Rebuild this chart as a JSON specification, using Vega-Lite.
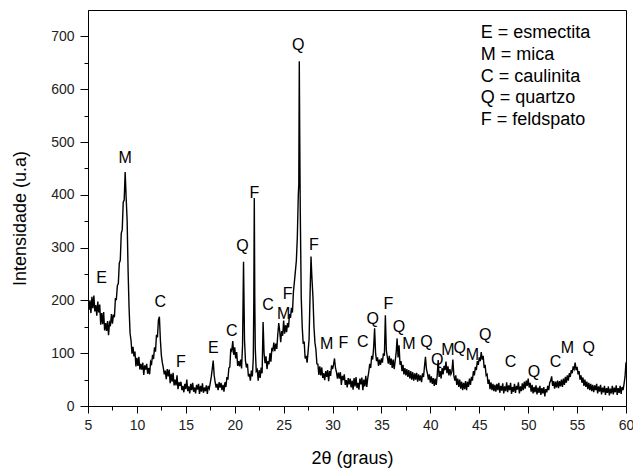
{
  "$schema": "https://vega.github.io/schema/vega-lite/v6.json",
  "width": 538,
  "height": 396,
  "autosize": {"type": "none"},
  "padding": {"left": 88, "top": 10, "right": 7, "bottom": 62},
  "background": "white",
  "config": {
    "font": "Liberation Sans",
    "view": {"stroke": "black", "strokeWidth": 1},
    "axis": {"grid": false, "domainColor": "black", "tickColor": "black", "labelColor": "#222", "titleColor": "black", "labelFont": "Liberation Sans", "titleFont": "Liberation Sans", "titleFontWeight": "normal"}
  },
  "datasets": {
    "xrd": [
      {"x":5.0,"y":205},{"x":5.1,"y":182},{"x":5.2,"y":200},{"x":5.3,"y":176},{"x":5.4,"y":207},{"x":5.5,"y":185},{"x":5.6,"y":209},{"x":5.7,"y":179},{"x":5.8,"y":191},{"x":5.9,"y":171},
      {"x":6.0,"y":198},{"x":6.1,"y":177},{"x":6.2,"y":192},{"x":6.3,"y":154},{"x":6.4,"y":176},{"x":6.5,"y":155},{"x":6.6,"y":178},{"x":6.7,"y":143},{"x":6.8,"y":157},{"x":6.9,"y":142},
      {"x":7.0,"y":161},{"x":7.1,"y":134},{"x":7.2,"y":158},{"x":7.3,"y":154},{"x":7.4,"y":174},{"x":7.5,"y":156},{"x":7.6,"y":173},{"x":7.7,"y":168},{"x":7.8,"y":203},{"x":7.9,"y":202},
      {"x":8.0,"y":228},{"x":8.1,"y":232},{"x":8.2,"y":271},{"x":8.3,"y":276},{"x":8.4,"y":327},{"x":8.5,"y":334},{"x":8.6,"y":386},{"x":8.7,"y":390},{"x":8.8,"y":443},{"x":8.9,"y":395},
      {"x":9.0,"y":352},{"x":9.1,"y":255},{"x":9.2,"y":185},{"x":9.3,"y":138},{"x":9.4,"y":124},{"x":9.5,"y":99},{"x":9.6,"y":112},{"x":9.7,"y":94},{"x":9.8,"y":103},{"x":9.9,"y":75},
      {"x":10.0,"y":91},{"x":10.1,"y":76},{"x":10.2,"y":93},{"x":10.3,"y":69},{"x":10.4,"y":80},{"x":10.5,"y":69},{"x":10.6,"y":82},{"x":10.7,"y":59},{"x":10.8,"y":77},{"x":10.9,"y":69},
      {"x":11.0,"y":80},{"x":11.1,"y":61},{"x":11.2,"y":72},{"x":11.3,"y":60},{"x":11.4,"y":84},{"x":11.5,"y":80},{"x":11.6,"y":97},{"x":11.7,"y":89},{"x":11.8,"y":111},{"x":11.9,"y":103},
      {"x":12.0,"y":135},{"x":12.1,"y":130},{"x":12.2,"y":163},{"x":12.3,"y":169},{"x":12.4,"y":125},{"x":12.5,"y":96},{"x":12.6,"y":82},{"x":12.7,"y":72},{"x":12.8,"y":60},{"x":12.9,"y":67},
      {"x":13.0,"y":51},{"x":13.1,"y":70},{"x":13.2,"y":56},{"x":13.3,"y":69},{"x":13.4,"y":43},{"x":13.5,"y":61},{"x":13.6,"y":46},{"x":13.7,"y":63},{"x":13.8,"y":39},{"x":13.9,"y":50},
      {"x":14.0,"y":39},{"x":14.1,"y":58},{"x":14.2,"y":32},{"x":14.3,"y":45},{"x":14.4,"y":38},{"x":14.5,"y":46},{"x":14.6,"y":30},{"x":14.7,"y":38},{"x":14.8,"y":26},{"x":14.9,"y":42},
      {"x":15.0,"y":32},{"x":15.1,"y":50},{"x":15.2,"y":28},{"x":15.3,"y":37},{"x":15.4,"y":24},{"x":15.5,"y":42},{"x":15.6,"y":30},{"x":15.7,"y":44},{"x":15.8,"y":27},{"x":15.9,"y":35},
      {"x":16.0,"y":24},{"x":16.1,"y":40},{"x":16.2,"y":31},{"x":16.3,"y":42},{"x":16.4,"y":23},{"x":16.5,"y":38},{"x":16.6,"y":27},{"x":16.7,"y":43},{"x":16.8,"y":25},{"x":16.9,"y":35},
      {"x":17.0,"y":28},{"x":17.1,"y":39},{"x":17.2,"y":23},{"x":17.3,"y":38},{"x":17.4,"y":33},{"x":17.5,"y":44},{"x":17.6,"y":55},{"x":17.7,"y":70},{"x":17.8,"y":86},{"x":17.9,"y":58},
      {"x":18.0,"y":45},{"x":18.1,"y":35},{"x":18.2,"y":42},{"x":18.3,"y":30},{"x":18.4,"y":45},{"x":18.5,"y":35},{"x":18.6,"y":44},{"x":18.7,"y":30},{"x":18.8,"y":40},{"x":18.9,"y":27},
      {"x":19.0,"y":45},{"x":19.1,"y":36},{"x":19.2,"y":55},{"x":19.3,"y":50},{"x":19.4,"y":72},{"x":19.5,"y":74},{"x":19.6,"y":109},{"x":19.7,"y":105},{"x":19.8,"y":123},{"x":19.9,"y":97},
      {"x":20.0,"y":111},{"x":20.1,"y":90},{"x":20.2,"y":102},{"x":20.3,"y":76},{"x":20.4,"y":85},{"x":20.5,"y":75},{"x":20.6,"y":88},{"x":20.7,"y":71},{"x":20.8,"y":115},{"x":20.9,"y":273},
      {"x":21.0,"y":125},{"x":21.1,"y":85},{"x":21.2,"y":73},{"x":21.3,"y":80},{"x":21.4,"y":56},{"x":21.5,"y":61},{"x":21.6,"y":48},{"x":21.7,"y":67},{"x":21.8,"y":56},{"x":21.9,"y":92},
      {"x":21.95,"y":200},{"x":22.0,"y":394},{"x":22.05,"y":205},{"x":22.1,"y":110},{"x":22.2,"y":66},{"x":22.3,"y":69},{"x":22.4,"y":48},{"x":22.5,"y":68},{"x":22.6,"y":53},{"x":22.7,"y":73},
      {"x":22.8,"y":62},{"x":22.9,"y":159},{"x":23.0,"y":100},{"x":23.1,"y":81},{"x":23.2,"y":94},{"x":23.3,"y":70},{"x":23.4,"y":85},{"x":23.5,"y":79},{"x":23.6,"y":100},{"x":23.7,"y":84},
      {"x":23.8,"y":110},{"x":23.9,"y":106},{"x":24.0,"y":120},{"x":24.1,"y":104},{"x":24.2,"y":118},{"x":24.3,"y":108},{"x":24.4,"y":135},{"x":24.5,"y":157},{"x":24.6,"y":142},{"x":24.7,"y":121},
      {"x":24.8,"y":142},{"x":24.9,"y":133},{"x":25.0,"y":162},{"x":25.1,"y":137},{"x":25.2,"y":153},{"x":25.3,"y":140},{"x":25.4,"y":157},{"x":25.5,"y":149},{"x":25.6,"y":174},{"x":25.7,"y":167},
      {"x":25.8,"y":186},{"x":25.9,"y":177},{"x":26.0,"y":216},{"x":26.1,"y":235},{"x":26.2,"y":255},{"x":26.3,"y":275},{"x":26.4,"y":320},{"x":26.5,"y":400},{"x":26.55,"y":420},{"x":26.6,"y":653},
      {"x":26.65,"y":500},{"x":26.7,"y":370},{"x":26.8,"y":205},{"x":26.9,"y":150},{"x":27.0,"y":118},{"x":27.1,"y":122},{"x":27.2,"y":90},{"x":27.3,"y":95},{"x":27.4,"y":82},{"x":27.5,"y":103},
      {"x":27.6,"y":126},{"x":27.7,"y":210},{"x":27.8,"y":283},{"x":27.85,"y":260},{"x":27.9,"y":240},{"x":28.0,"y":205},{"x":28.1,"y":150},{"x":28.2,"y":120},{"x":28.3,"y":107},{"x":28.4,"y":80},
      {"x":28.5,"y":79},{"x":28.6,"y":59},{"x":28.7,"y":75},{"x":28.8,"y":58},{"x":28.9,"y":73},{"x":29.0,"y":53},{"x":29.1,"y":62},{"x":29.2,"y":49},{"x":29.3,"y":66},{"x":29.4,"y":55},
      {"x":29.5,"y":68},{"x":29.6,"y":47},{"x":29.7,"y":66},{"x":29.8,"y":57},{"x":29.9,"y":77},{"x":30.0,"y":70},{"x":30.1,"y":78},{"x":30.2,"y":90},{"x":30.3,"y":72},{"x":30.4,"y":64},
      {"x":30.5,"y":52},{"x":30.6,"y":63},{"x":30.7,"y":52},{"x":30.8,"y":64},{"x":30.9,"y":40},{"x":31.0,"y":57},{"x":31.1,"y":49},{"x":31.2,"y":60},{"x":31.3,"y":40},{"x":31.4,"y":49},
      {"x":31.5,"y":35},{"x":31.6,"y":53},{"x":31.7,"y":41},{"x":31.8,"y":52},{"x":31.9,"y":35},{"x":32.0,"y":48},{"x":32.1,"y":31},{"x":32.2,"y":53},{"x":32.3,"y":37},{"x":32.4,"y":55},
      {"x":32.5,"y":34},{"x":32.6,"y":44},{"x":32.7,"y":31},{"x":32.8,"y":52},{"x":32.9,"y":41},{"x":33.0,"y":54},{"x":33.1,"y":30},{"x":33.2,"y":50},{"x":33.3,"y":37},{"x":33.4,"y":57},
      {"x":33.5,"y":36},{"x":33.6,"y":53},{"x":33.7,"y":64},{"x":33.8,"y":80},{"x":33.9,"y":72},{"x":34.0,"y":95},{"x":34.1,"y":88},{"x":34.2,"y":110},{"x":34.3,"y":147},{"x":34.4,"y":100},
      {"x":34.5,"y":85},{"x":34.6,"y":92},{"x":34.7,"y":76},{"x":34.8,"y":88},{"x":34.9,"y":78},{"x":35.0,"y":90},{"x":35.1,"y":82},{"x":35.2,"y":100},{"x":35.3,"y":95},{"x":35.4,"y":172},
      {"x":35.5,"y":105},{"x":35.6,"y":93},{"x":35.7,"y":80},{"x":35.8,"y":95},{"x":35.9,"y":78},{"x":36.0,"y":90},{"x":36.1,"y":72},{"x":36.2,"y":88},{"x":36.3,"y":70},{"x":36.4,"y":85},
      {"x":36.5,"y":100},{"x":36.6,"y":128},{"x":36.7,"y":92},{"x":36.8,"y":115},{"x":36.9,"y":78},{"x":37.0,"y":85},{"x":37.1,"y":66},{"x":37.2,"y":78},{"x":37.3,"y":60},{"x":37.4,"y":72},
      {"x":37.5,"y":58},{"x":37.6,"y":70},{"x":37.7,"y":55},{"x":37.8,"y":68},{"x":37.9,"y":52},{"x":38.0,"y":66},{"x":38.1,"y":50},{"x":38.2,"y":64},{"x":38.3,"y":48},{"x":38.4,"y":62},
      {"x":38.5,"y":50},{"x":38.6,"y":63},{"x":38.7,"y":46},{"x":38.8,"y":60},{"x":38.9,"y":48},{"x":39.0,"y":58},{"x":39.1,"y":45},{"x":39.2,"y":62},{"x":39.3,"y":55},{"x":39.4,"y":75},
      {"x":39.5,"y":93},{"x":39.6,"y":70},{"x":39.7,"y":62},{"x":39.8,"y":50},{"x":39.9,"y":60},{"x":40.0,"y":44},{"x":40.1,"y":56},{"x":40.2,"y":42},{"x":40.3,"y":53},{"x":40.4,"y":38},
      {"x":40.5,"y":52},{"x":40.6,"y":40},{"x":40.7,"y":58},{"x":40.8,"y":87},{"x":40.9,"y":55},{"x":41.0,"y":66},{"x":41.1,"y":52},{"x":41.2,"y":72},{"x":41.3,"y":60},{"x":41.4,"y":76},
      {"x":41.5,"y":68},{"x":41.6,"y":84},{"x":41.7,"y":62},{"x":41.8,"y":75},{"x":41.9,"y":58},{"x":42.0,"y":70},{"x":42.1,"y":60},{"x":42.2,"y":65},{"x":42.3,"y":88},{"x":42.4,"y":58},
      {"x":42.5,"y":48},{"x":42.6,"y":58},{"x":42.7,"y":40},{"x":42.8,"y":52},{"x":42.9,"y":36},{"x":43.0,"y":50},{"x":43.1,"y":33},{"x":43.2,"y":46},{"x":43.3,"y":30},{"x":43.4,"y":44},
      {"x":43.5,"y":32},{"x":43.6,"y":47},{"x":43.7,"y":30},{"x":43.8,"y":46},{"x":43.9,"y":36},{"x":44.0,"y":52},{"x":44.1,"y":40},{"x":44.2,"y":55},{"x":44.3,"y":48},{"x":44.4,"y":66},
      {"x":44.5,"y":58},{"x":44.6,"y":74},{"x":44.7,"y":68},{"x":44.8,"y":85},{"x":44.9,"y":78},{"x":45.0,"y":92},{"x":45.1,"y":85},{"x":45.2,"y":102},{"x":45.3,"y":88},{"x":45.4,"y":95},
      {"x":45.5,"y":72},{"x":45.6,"y":78},{"x":45.7,"y":58},{"x":45.8,"y":60},{"x":45.9,"y":42},{"x":46.0,"y":50},{"x":46.1,"y":32},{"x":46.2,"y":45},{"x":46.3,"y":30},{"x":46.4,"y":42},
      {"x":46.5,"y":28},{"x":46.6,"y":40},{"x":46.7,"y":27},{"x":46.8,"y":42},{"x":46.9,"y":30},{"x":47.0,"y":44},{"x":47.1,"y":25},{"x":47.2,"y":38},{"x":47.3,"y":29},{"x":47.4,"y":43},
      {"x":47.5,"y":24},{"x":47.6,"y":37},{"x":47.7,"y":28},{"x":47.8,"y":45},{"x":47.9,"y":26},{"x":48.0,"y":39},{"x":48.1,"y":30},{"x":48.2,"y":44},{"x":48.3,"y":23},{"x":48.4,"y":36},
      {"x":48.5,"y":27},{"x":48.6,"y":42},{"x":48.7,"y":25},{"x":48.8,"y":38},{"x":48.9,"y":31},{"x":49.0,"y":45},{"x":49.1,"y":24},{"x":49.2,"y":37},{"x":49.3,"y":28},{"x":49.4,"y":43},
      {"x":49.5,"y":30},{"x":49.6,"y":46},{"x":49.7,"y":33},{"x":49.8,"y":48},{"x":49.9,"y":38},{"x":50.0,"y":52},{"x":50.1,"y":35},{"x":50.2,"y":44},{"x":50.3,"y":27},{"x":50.4,"y":40},
      {"x":50.5,"y":24},{"x":50.6,"y":36},{"x":50.7,"y":26},{"x":50.8,"y":39},{"x":50.9,"y":22},{"x":51.0,"y":35},{"x":51.1,"y":25},{"x":51.2,"y":38},{"x":51.3,"y":21},{"x":51.4,"y":34},
      {"x":51.5,"y":24},{"x":51.6,"y":36},{"x":51.7,"y":18},{"x":51.8,"y":32},{"x":51.9,"y":26},{"x":52.0,"y":38},{"x":52.1,"y":30},{"x":52.2,"y":44},{"x":52.3,"y":48},{"x":52.4,"y":56},
      {"x":52.5,"y":38},{"x":52.6,"y":47},{"x":52.7,"y":33},{"x":52.8,"y":46},{"x":52.9,"y":35},{"x":53.0,"y":48},{"x":53.1,"y":34},{"x":53.2,"y":47},{"x":53.3,"y":37},{"x":53.4,"y":50},
      {"x":53.5,"y":36},{"x":53.6,"y":52},{"x":53.7,"y":40},{"x":53.8,"y":55},{"x":53.9,"y":44},{"x":54.0,"y":58},{"x":54.1,"y":48},{"x":54.2,"y":62},{"x":54.3,"y":55},{"x":54.4,"y":68},
      {"x":54.5,"y":62},{"x":54.6,"y":75},{"x":54.7,"y":70},{"x":54.8,"y":82},{"x":54.9,"y":68},{"x":55.0,"y":74},{"x":55.1,"y":60},{"x":55.2,"y":66},{"x":55.3,"y":50},{"x":55.4,"y":58},
      {"x":55.5,"y":44},{"x":55.6,"y":54},{"x":55.7,"y":38},{"x":55.8,"y":50},{"x":55.9,"y":36},{"x":56.0,"y":46},{"x":56.1,"y":32},{"x":56.2,"y":44},{"x":56.3,"y":30},{"x":56.4,"y":42},
      {"x":56.5,"y":28},{"x":56.6,"y":40},{"x":56.7,"y":26},{"x":56.8,"y":39},{"x":56.9,"y":30},{"x":57.0,"y":42},{"x":57.1,"y":24},{"x":57.2,"y":37},{"x":57.3,"y":27},{"x":57.4,"y":40},
      {"x":57.5,"y":22},{"x":57.6,"y":35},{"x":57.7,"y":26},{"x":57.8,"y":38},{"x":57.9,"y":21},{"x":58.0,"y":34},{"x":58.1,"y":25},{"x":58.2,"y":37},{"x":58.3,"y":20},{"x":58.4,"y":33},
      {"x":58.5,"y":24},{"x":58.6,"y":38},{"x":58.7,"y":22},{"x":58.8,"y":35},{"x":58.9,"y":26},{"x":59.0,"y":39},{"x":59.1,"y":21},{"x":59.2,"y":34},{"x":59.3,"y":25},{"x":59.4,"y":38},
      {"x":59.5,"y":23},{"x":59.6,"y":36},{"x":59.7,"y":30},{"x":59.8,"y":42},{"x":59.9,"y":55},{"x":60.0,"y":83}
    ],
    "peaks": [
      {"lab":"E","x":6.4,"y":242},{"lab":"M","x":8.8,"y":469},{"lab":"C","x":12.4,"y":197},{"lab":"F","x":14.5,"y":83},
      {"lab":"E","x":17.8,"y":109},{"lab":"C","x":19.7,"y":142},{"lab":"Q","x":20.8,"y":303},{"lab":"F","x":22.0,"y":403},
      {"lab":"C","x":23.4,"y":191},{"lab":"M","x":25.0,"y":175},{"lab":"F","x":25.4,"y":213},{"lab":"Q","x":26.5,"y":684},
      {"lab":"F","x":28.1,"y":304},{"lab":"M","x":29.4,"y":118},{"lab":"F","x":31.1,"y":120},{"lab":"C","x":33.1,"y":121},
      {"lab":"Q","x":34.1,"y":164},{"lab":"F","x":35.7,"y":194},{"lab":"Q","x":36.8,"y":150},{"lab":"M","x":37.8,"y":117},
      {"lab":"Q","x":39.6,"y":121},{"lab":"Q","x":40.7,"y":87},{"lab":"M","x":41.8,"y":106},{"lab":"Q","x":43.0,"y":109},
      {"lab":"M","x":44.3,"y":96},{"lab":"Q","x":45.6,"y":134},{"lab":"C","x":48.2,"y":83},{"lab":"Q","x":50.6,"y":65},
      {"lab":"C","x":52.8,"y":83},{"lab":"M","x":54.0,"y":109},{"lab":"Q","x":56.2,"y":109}
    ],
    "key": [
      {"t":"E = esmectita","x":45.15,"y":707},
      {"t":"M = mica","x":45.15,"y":665},
      {"t":"C = caulinita","x":45.15,"y":624},
      {"t":"Q = quartzo","x":45.15,"y":583},
      {"t":"F = feldspato","x":45.15,"y":542}
    ]
  },
  "layer": [
    {
      "data": {"name": "xrd"},
      "mark": {"type": "line", "color": "black", "strokeWidth": 1.4, "clip": true},
      "encoding": {
        "x": {"field": "x", "type": "quantitative", "scale": {"domain": [5, 60], "nice": false, "zero": false},
          "axis": {"orient": "bottom", "values": [5,10,15,20,25,30,35,40,45,50,55,60], "tickSize": 7, "labelPadding": 5, "labelFontSize": 14, "labelFlush": false,
            "title": "2θ (graus)", "titleFontSize": 18, "titleX": 264, "titleY": 57, "titleBaseline": "alphabetic", "titleAnchor": "middle"}},
        "y": {"field": "y", "type": "quantitative", "scale": {"domain": [0, 750], "nice": false},
          "axis": {"orient": "left", "values": [0,100,200,300,400,500,600,700], "tickSize": 8, "labelPadding": 6, "labelFontSize": 14,
            "title": "Intensidade (u.a)", "titleFontSize": 18, "titleX": -68, "titleY": 208, "titleBaseline": "middle", "titleAngle": -90, "titleAnchor": "middle"}}
      }
    },
    {
      "data": {"name": "peaks"},
      "mark": {"type": "text", "fontSize": 16, "color": "black", "align": "center", "baseline": "middle", "font": "Liberation Sans"},
      "encoding": {
        "x": {"field": "x", "type": "quantitative",
          "axis": {"orient": "bottom", "values": [7.5,12.5,17.5,22.5,27.5,32.5,37.5,42.5,47.5,52.5,57.5], "tickSize": 4, "labels": false, "domain": false, "title": null}},
        "y": {"field": "y", "type": "quantitative",
          "axis": {"orient": "left", "values": [50,150,250,350,450,550,650], "tickSize": 4, "labels": false, "domain": false, "title": null}},
        "text": {"field": "lab"}
      }
    },
    {
      "data": {"name": "key"},
      "mark": {"type": "text", "fontSize": 18, "color": "black", "align": "left", "baseline": "middle", "font": "Liberation Sans"},
      "encoding": {
        "x": {"field": "x", "type": "quantitative", "axis": null},
        "y": {"field": "y", "type": "quantitative", "axis": null},
        "text": {"field": "t"}
      }
    }
  ],
  "resolve": {"axis": {"x": "independent", "y": "independent"}}
}
